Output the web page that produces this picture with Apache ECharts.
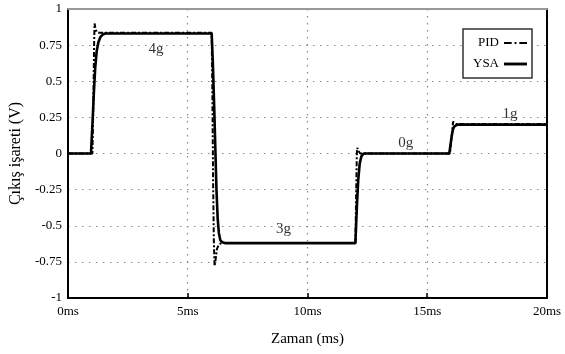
<!DOCTYPE html>
<html>
<head>
<meta charset="utf-8">
<script src="https://cdn.jsdelivr.net/npm/echarts@6/dist/echarts.min.js"></script>
<style>html,body{margin:0;padding:0;background:#fff}#c{width:565px;height:354px}</style>
</head>
<body>
<div id="c"></div>
<script>
// time (ms) and output (V) for the YSA response
var ysaT = [0, 0.96, 1.02, 1.08, 1.14, 1.2, 1.27, 1.35, 1.45, 1.55, 6.0, 6.05, 6.1, 6.15, 6.2, 6.25, 6.3, 6.36, 6.45, 6.55, 12.0, 12.03, 12.07, 12.12, 12.18, 12.25, 12.35, 15.92, 15.97, 16.02, 16.07, 16.12, 16.18, 16.25, 20];
var ysaV = [0, 0, 0.2, 0.42, 0.6, 0.71, 0.77, 0.805, 0.823, 0.83, 0.83, 0.62, 0.35, 0.05, -0.25, -0.45, -0.55, -0.6, -0.615, -0.62, -0.62, -0.5, -0.34, -0.18, -0.07, -0.02, 0, 0, 0.06, 0.12, 0.165, 0.185, 0.195, 0.2, 0.2];
// time (ms) and output (V) for the PID response
var pidT = [0, 1.02, 1.06, 1.09, 1.11, 1.14, 1.2, 1.3, 6.0, 6.03, 6.06, 6.09, 6.12, 6.16, 6.22, 6.3, 6.4, 12.0, 12.03, 12.06, 12.08, 12.12, 12.2, 15.95, 16.0, 16.05, 16.08, 16.12, 16.2, 20];
var pidV = [0, 0, 0.35, 0.75, 0.9, 0.87, 0.84, 0.835, 0.835, 0.4, -0.2, -0.6, -0.78, -0.74, -0.66, -0.63, -0.62, -0.62, -0.3, 0.0, 0.04, 0.02, 0.0, 0.0, 0.08, 0.17, 0.22, 0.21, 0.205, 0.205];
// annotations
var noteT = [3.67, 9.0, 14.1, 18.46];
var noteV = [0.72, -0.52, 0.07, 0.27];
var noteText = ['4g', '3g', '0g', '1g'];
// axes
var xTicks = [0, 5, 10, 15, 20];
var yTicks = [-1, -0.75, -0.5, -0.25, 0, 0.25, 0.5, 0.75, 1];

function pairs(t, v) { return t.map(function (x, i) { return [x, v[i]]; }); }

var FONT = 'Liberation Serif';
var grid = { left: 67, right: 18, top: 9, bottom: 56 };
var dotted = { type: [1.5, 5.5], color: '#888', width: 1.2 };

var chart = echarts.init(document.getElementById('c'), null, { renderer: 'canvas' });
chart.setOption({
  animation: false,
  backgroundColor: '#fff',
  grid: grid,
  legend: {
    data: [
      { name: 'PID', icon: 'path://M0,0h8v2h-8z M11,0h2v2h-2z M16,0h8v2h-8z' },
      { name: 'YSA', icon: 'path://M0,0h24v3h-24z' }
    ],
    orient: 'vertical',
    left: 463, top: 29,
    align: 'right',
    padding: [7, 5, 7, 10],
    itemGap: 7,
    itemWidth: 23,
    itemHeight: 3,
    borderColor: '#333',
    borderWidth: 1.5,
    backgroundColor: '#fff',
    itemStyle: { color: '#000', borderWidth: 0 },
    textStyle: { fontFamily: FONT, fontSize: 13, color: '#000', width: 24, lineHeight: 14 }
  },
  xAxis: [{
    type: 'value', min: 0, max: 20, interval: 5,
    name: 'Zaman (ms)', nameLocation: 'middle', nameGap: 34,
    nameTextStyle: { fontFamily: FONT, fontSize: 15, color: '#000' },
    axisLine: { onZero: false, lineStyle: { color: '#000', width: 2 } },
    axisTick: { show: true, inside: true, length: 5, lineStyle: { color: '#000', width: 1.5 } },
    axisLabel: { fontFamily: FONT, fontSize: 13, color: '#000', margin: 7,
      formatter: function (v) { return xTicks.indexOf(v) >= 0 ? v + 'ms' : ''; } },
    splitLine: { show: true, lineStyle: dotted }
  }, {
    type: 'value', min: 0, max: 20, position: 'top',
    axisLine: { show: true, onZero: false, lineStyle: { color: '#999', width: 2 } },
    axisTick: { show: false }, axisLabel: { show: false }, splitLine: { show: false }
  }],
  yAxis: [{
    type: 'value', min: -1, max: 1, interval: 0.25,
    name: 'Çıkış işareti (V)', nameLocation: 'middle', nameGap: 40,
    nameTextStyle: { fontFamily: FONT, fontSize: 16, color: '#000' },
    axisLine: { show: true, onZero: false, lineStyle: { color: '#000', width: 2 } },
    axisTick: { show: false },
    axisLabel: { fontFamily: FONT, fontSize: 13, color: '#000', margin: 6,
      formatter: function (v) { return yTicks.indexOf(v) >= 0 ? String(v) : ''; } },
    splitLine: { show: true, lineStyle: dotted }
  }, {
    type: 'value', min: -1, max: 1, position: 'right',
    axisLine: { show: true, onZero: false, lineStyle: { color: '#000', width: 2 } },
    axisTick: { show: false }, axisLabel: { show: false }, splitLine: { show: false }
  }],
  series: [{
    name: 'YSA', type: 'line', data: pairs(ysaT, ysaV),
    symbol: 'none', showSymbol: false, z: 3,
    lineStyle: { color: '#000', width: 2.6, type: 'solid' },
    itemStyle: { color: '#000' }
  }, {
    name: 'PID', type: 'line', data: pairs(pidT, pidV),
    symbol: 'none', showSymbol: false, z: 4,
    lineStyle: { color: '#000', width: 2, type: [5, 2, 2, 2] },
    itemStyle: { color: '#000' }
  }, {
    name: 'notes', type: 'scatter', symbolSize: 0, z: 5,
    data: noteT.map(function (t, i) { return { value: [t, noteV[i]], name: noteText[i] }; }),
    label: { show: true, position: 'inside', formatter: '{b}',
      fontFamily: FONT, fontSize: 15, color: '#000' }
  }]
});
</script>
</body>
</html>
